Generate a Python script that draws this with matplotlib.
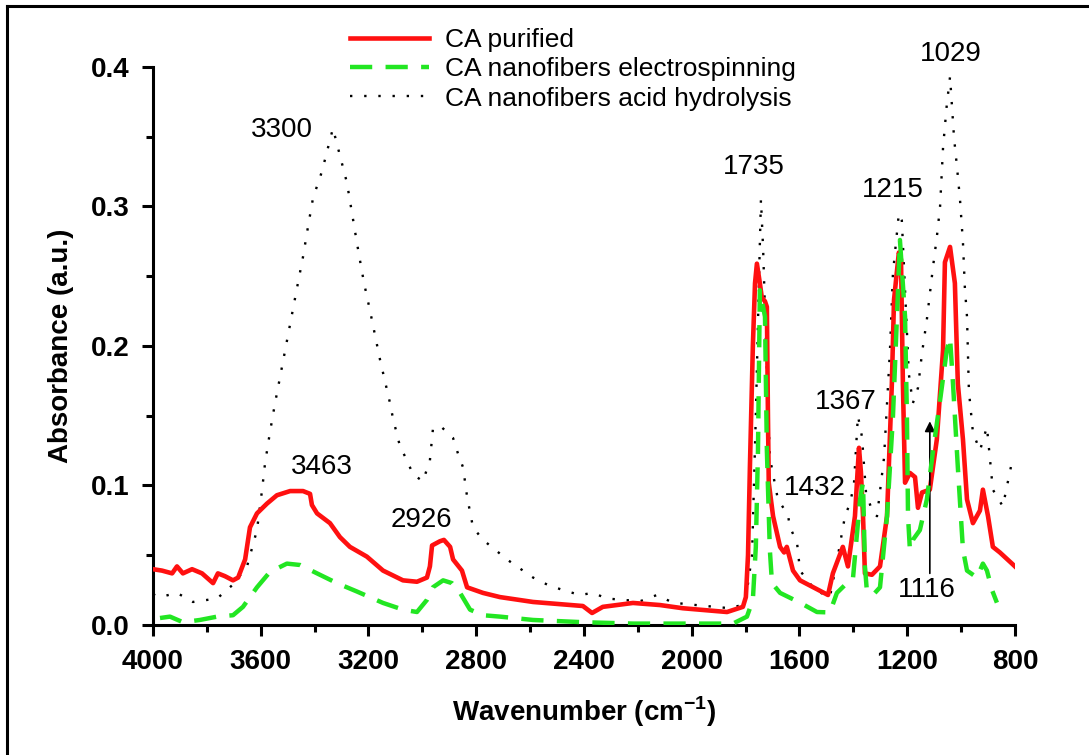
import matplotlib
matplotlib.use('Agg')
import matplotlib.pyplot as plt
from matplotlib.lines import Line2D

plt.rcParams['font.family'] = ['Liberation Sans', 'DejaVu Sans']
plt.rcParams['mathtext.fontset'] = 'custom'
plt.rcParams['mathtext.rm'] = 'Liberation Sans'
plt.rcParams['mathtext.bf'] = 'Liberation Sans:bold'

# CA purified
wn_pur = [4000, 3967, 3929, 3911, 3889, 3855, 3818, 3777, 3759, 3733, 3703, 3684, 3658, 3640,
          3614, 3577, 3540, 3491, 3443, 3417, 3410, 3391, 3343, 3306, 3269, 3206, 3146, 3072,
          3020, 2983, 2972, 2964, 2935, 2920, 2897, 2886, 2853, 2834, 2775, 2712, 2589, 2404,
          2370, 2330, 2218, 2118, 2033, 1869, 1810, 1799, 1791, 1784, 1773, 1765, 1758, 1747,
          1740, 1728, 1721, 1717, 1714, 1698, 1672, 1657, 1647, 1624, 1598, 1494, 1476, 1439,
          1420, 1394, 1379, 1372, 1364, 1357, 1331, 1301, 1275, 1257, 1249, 1231, 1223, 1216,
          1208, 1190, 1171, 1160, 1145, 1116, 1090, 1067, 1060, 1041, 1023, 1012, 993, 978,
          956, 930, 919, 900, 882, 856, 811, 800]
ab_pur = [0.040, 0.039, 0.037, 0.042, 0.037, 0.040, 0.037, 0.030, 0.037, 0.035, 0.032, 0.034, 0.047, 0.070,
          0.080, 0.087, 0.093, 0.096, 0.096, 0.094, 0.086, 0.080, 0.073, 0.063, 0.056, 0.049, 0.039, 0.032,
          0.031, 0.034, 0.042, 0.057, 0.060, 0.061, 0.056, 0.047, 0.039, 0.027, 0.023, 0.020, 0.0165, 0.0136,
          0.0086, 0.013, 0.0158, 0.0143, 0.012, 0.0093, 0.013, 0.020, 0.050, 0.113, 0.200, 0.245, 0.259, 0.245,
          0.235, 0.232, 0.228, 0.150, 0.102, 0.078, 0.056, 0.052, 0.056, 0.039, 0.032, 0.0215, 0.037, 0.056,
          0.042, 0.078, 0.127, 0.110, 0.078, 0.037, 0.036, 0.042, 0.078, 0.173, 0.233, 0.267, 0.262, 0.173,
          0.102, 0.109, 0.106, 0.084, 0.095, 0.097, 0.133, 0.197, 0.260, 0.271, 0.245, 0.173, 0.133, 0.090,
          0.073, 0.082, 0.097, 0.078, 0.056, 0.052, 0.044, 0.042]

# CA nanofibers electrospinning
wn_elec = [3974, 3937, 3889, 3826, 3762, 3703, 3666, 3614, 3566, 3503, 3454, 3391, 3317, 3243,
           3146, 3072, 3020, 2983, 2961, 2923, 2890, 2860, 2823, 2775, 2712, 2589, 2404, 2218,
           1847, 1795, 1773, 1762, 1754, 1747, 1728, 1721, 1710, 1702, 1672, 1598, 1535, 1487,
           1461, 1424, 1402, 1375, 1364, 1357, 1350, 1327, 1301, 1275, 1253, 1238, 1227, 1208,
           1201, 1197, 1190, 1179, 1153, 1127, 1104, 1078, 1053, 1041, 1030, 1012, 993, 978,
           941, 919, 904, 885, 867]
ab_elec = [0.005, 0.006, 0.002, 0.0036, 0.006, 0.007, 0.013, 0.027, 0.038, 0.044, 0.043, 0.037, 0.030, 0.024,
           0.0158, 0.011, 0.0093, 0.018, 0.027, 0.032, 0.030, 0.023, 0.011, 0.007, 0.006, 0.0036, 0.002, 0.001,
           0.001, 0.006, 0.018, 0.056, 0.125, 0.240, 0.221, 0.125, 0.054, 0.030, 0.023, 0.016, 0.0093, 0.009,
           0.023, 0.030, 0.032, 0.090, 0.102, 0.042, 0.025, 0.0215, 0.027, 0.078, 0.149, 0.221, 0.276, 0.221,
           0.149, 0.078, 0.054, 0.061, 0.068, 0.090, 0.125, 0.161, 0.197, 0.206, 0.173, 0.113, 0.054, 0.039,
           0.034, 0.044, 0.039, 0.025, 0.016]

# CA nanofibers acid hydrolysis
wn_acid = [4000, 3974, 3911, 3852, 3762, 3703, 3651, 3614, 3595, 3584, 3566, 3547, 3536, 3465,
           3443, 3425, 3406, 3373, 3332, 3280, 3261, 3243, 3224, 3213, 3194, 3157, 3120, 3109,
           3083, 3057, 3035, 2998, 2972, 2961, 2935, 2886, 2868, 2849, 2834, 2812, 2775, 2730,
           2686, 2649, 2589, 2537, 2478, 2415, 2367, 2315, 2255, 2192, 2129, 2070, 1969, 1858,
           1802, 1776, 1762, 1750, 1743, 1735, 1724, 1710, 1680, 1643, 1635, 1609, 1598, 1542,
           1487, 1457, 1431, 1413, 1398, 1383, 1368, 1353, 1327, 1312, 1286, 1264, 1253, 1231,
           1220, 1208, 1194, 1179, 1160, 1145, 1127, 1104, 1090, 1078, 1067, 1053, 1041, 1026,
           1015, 1004, 993, 986, 978, 971, 956, 930, 904, 882, 845, 811, 800]
ab_acid = [0.022, 0.020, 0.023, 0.0165, 0.019, 0.029, 0.042, 0.068, 0.097, 0.116, 0.138, 0.159, 0.170, 0.242,
           0.264, 0.285, 0.306, 0.325, 0.356, 0.317, 0.295, 0.274, 0.253, 0.242, 0.225, 0.190, 0.159, 0.148,
           0.128, 0.118, 0.108, 0.103, 0.118, 0.140, 0.143, 0.134, 0.123, 0.113, 0.092, 0.070, 0.061, 0.054,
           0.047, 0.042, 0.034, 0.029, 0.025, 0.0215, 0.023, 0.019, 0.018, 0.017, 0.0215, 0.016, 0.014, 0.012,
           0.015, 0.050, 0.150, 0.250, 0.305, 0.270, 0.200, 0.120, 0.090, 0.079, 0.070, 0.059, 0.039, 0.025,
           0.020, 0.050, 0.078, 0.087, 0.100, 0.150, 0.135, 0.095, 0.080, 0.078, 0.120, 0.197, 0.252, 0.295,
           0.290, 0.240, 0.180, 0.159, 0.170, 0.195, 0.219, 0.257, 0.278, 0.300, 0.342, 0.373, 0.393, 0.349,
           0.328, 0.305, 0.274, 0.242, 0.221, 0.168, 0.138, 0.125, 0.142, 0.097, 0.085, 0.117, 0.120]

# peak labels
peak_text = ['3300', '3463', '2926', '1735', '1432', '1367', '1215', '1029', '1116']
peak_x = [3520, 3373, 3005, 1769, 1543, 1427, 1253, 1038, 1127]
peak_y = [0.355, 0.113, 0.075, 0.328, 0.098, 0.160, 0.312, 0.409, 0.025]

fig = plt.figure(figsize=(10.89, 7.55), dpi=100)
ax = fig.add_axes([0.1405, 0.1722, 0.7915, 0.7391])

ax.plot(wn_pur, ab_pur, color='#ff1010', lw=3.3, label='CA purified', zorder=3)
ax.plot(wn_elec, ab_elec, color='#22e622', lw=3.2, ls=(0, (5, 3)),
        label='CA nanofibers electrospinning', zorder=4)
ax.plot(wn_acid, ab_acid, color='black', lw=1.7, ls=(0, (1, 5)),
        label='CA nanofibers acid hydrolysis', zorder=2)

for t, x, y in zip(peak_text, peak_x, peak_y):
    ax.text(x, y, t, fontsize=20, ha='center', va='center', clip_on=False)

# arrow for 1116
ax.annotate('', xy=(1116, 0.148), xytext=(1116, 0.035),
            arrowprops=dict(arrowstyle='-|>', color='black', lw=1.2, mutation_scale=15))

ax.set_xlim(4000, 800)
ax.set_ylim(0, 0.4)
ax.set_xticks([4000, 3600, 3200, 2800, 2400, 2000, 1600, 1200, 800])
ax.set_xticks([3800, 3400, 3000, 2600, 2200, 1800, 1400, 1000], minor=True)
ax.set_yticks([0.0, 0.1, 0.2, 0.3, 0.4])
ax.set_yticks([0.05, 0.15, 0.25, 0.35], minor=True)
ax.set_yticklabels(['0.0', '0.1', '0.2', '0.3', '0.4'])

for s in ['top', 'right']:
    ax.spines[s].set_visible(False)
for s in ['left', 'bottom']:
    ax.spines[s].set_linewidth(2.2)

ax.tick_params(which='major', direction='out', length=8, width=2.2, labelsize=20, pad=9)
ax.tick_params(which='minor', direction='out', length=5, width=2.2)
for lbl in ax.get_xticklabels() + ax.get_yticklabels():
    lbl.set_fontweight('bold')

ax.set_xlabel(r'Wavenumber (cm$^{\mathbf{-1}}$)', fontsize=20, fontweight='bold', labelpad=14)
ax.set_ylabel('Absorbance (a.u.)', fontsize=20, fontweight='bold', labelpad=12)

ax.legend(loc='upper left', bbox_to_anchor=(350 / 1089, 1 - 28 / 755),
          bbox_transform=fig.transFigure, frameon=False, fontsize=19,
          handlelength=3.0, handletextpad=0.6, labelspacing=0.2, borderpad=0,
          borderaxespad=0)

# frame lines along top and left edges of the picture
fig.add_artist(Line2D([7 / 1089, 1.0], [1 - 6 / 755, 1 - 6 / 755], color='black', lw=2.2,
                      transform=fig.transFigure))
fig.add_artist(Line2D([7 / 1089, 7 / 1089], [0.0, 1 - 6 / 755], color='black', lw=2.2,
                      transform=fig.transFigure))

fig.savefig('out.png', dpi=100)
